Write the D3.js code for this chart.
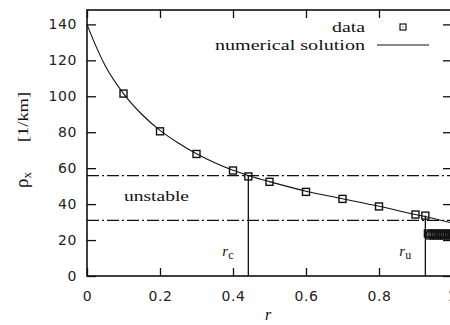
<!doctype html>
<html lang='en'>
<head>
    <meta charset='UTF-8'>
    <title>rho_x vs r</title>
    <style>
        html, body { margin: 0; background: #fff; }
        svg { display: block; }
        .tick text { font-family: "DejaVu Sans", sans-serif; font-size: 14px; fill: #222; }
        .serif { font-family: "Times New Roman", Times, "Liberation Serif", serif; fill: #111; }
    </style>
</head>
<body>
<script src='https://d3js.org/d3.v7.min.js'></script>
<script>
    // numerical solution
    const curveR = [0, 0.02, 0.05, 0.1, 0.15, 0.2, 0.25, 0.3, 0.35, 0.4, 0.45, 0.5, 0.6, 0.7, 0.8, 0.9, 0.95, 1.0];
    const curveRho = [140, 130, 117, 101.5, 90, 81, 74, 68, 63, 58.8, 55.4, 52.5, 47.2, 43, 38.8, 34.2, 32, 29.5];

    // simulation data points
    const dataR = [0.1, 0.2, 0.3, 0.4, 0.442, 0.5, 0.6, 0.7, 0.8, 0.9, 0.927,
        0.934, 0.939, 0.944, 0.949, 0.954, 0.959, 0.964, 0.969, 0.974, 0.979, 0.984, 0.989, 0.994, 1.0];
    const dataRho = [101.5, 80.5, 67.9, 58.7, 55.4, 52.4, 46.8, 42.9, 38.7, 34.2, 33.6,
        23.6, 22.6, 23.6, 22.6, 23.6, 22.6, 23.6, 22.6, 23.6, 22.6, 23.6, 22.6, 23.6, 22.6];

    // unstable band and the critical densities
    const bandRho = [55.8, 31];
    const critR = [0.442, 0.927];
    const critTop = [55.8, 33.6];
    const critNames = ['c', 'u'];

    const xTicks = [0, 0.2, 0.4, 0.6, 0.8, 1];
    const yTicks = [0, 20, 40, 60, 80, 100, 120, 140];

    const width = 450, height = 325;
    const mLeft = 87, mRight = 452, mTop = 10, mBottom = 276;

    const svg = d3.select('body').append('svg')
        .attr('width', width)
        .attr('height', height);

    const x = d3.scaleLinear().domain([0, 1]).range([mLeft, mRight]);
    const y = d3.scaleLinear().domain([0, 148]).range([mBottom, mTop]);

    // axes (ticks point inward)
    svg.append('g')
        .attr('transform', `translate(0,${mBottom})`)
        .call(d3.axisBottom(x).tickValues(xTicks).tickSize(-8).tickPadding(15)
            .tickFormat(d3.format('')));
    svg.append('g')
        .attr('transform', `translate(${mLeft},0)`)
        .call(d3.axisLeft(y).tickValues(yTicks).tickSize(-9).tickPadding(10));
    svg.append('g')
        .attr('transform', `translate(0,${mTop})`)
        .call(d3.axisTop(x).tickValues(xTicks).tickSize(-8).tickFormat(''));
    svg.append('g')
        .attr('transform', `translate(${mRight},0)`)
        .call(d3.axisRight(y).tickValues(yTicks).tickSize(-9).tickFormat(''));

    svg.selectAll('.domain').remove();
    svg.selectAll('.tick line').attr('stroke', '#111').attr('stroke-width', 1.3);
    svg.selectAll('.tick text').attr('letter-spacing', 0.6);

    svg.append('rect')
        .attr('x', mLeft).attr('y', mTop)
        .attr('width', mRight - mLeft).attr('height', mBottom - mTop)
        .attr('fill', 'none').attr('stroke', '#111').attr('stroke-width', 1.6);

    // unstable band boundaries
    svg.selectAll('.band')
        .data(bandRho)
        .enter().append('line')
        .attr('x1', x(0)).attr('x2', x(1))
        .attr('y1', d => y(d)).attr('y2', d => y(d))
        .attr('stroke', '#111').attr('stroke-width', 1.2)
        .attr('stroke-dasharray', '12,3,2,3');

    // critical density markers
    svg.selectAll('.crit')
        .data(critR)
        .enter().append('line')
        .attr('x1', d => x(d)).attr('x2', d => x(d))
        .attr('y1', y(0)).attr('y2', (d, i) => y(critTop[i]))
        .attr('stroke', '#111').attr('stroke-width', 1.3);

    critR.forEach((r, i) => {
        const t = svg.append('text').attr('class', 'serif')
            .attr('x', x(r) - 26).attr('y', 256)
            .attr('font-size', 15).attr('font-style', 'italic');
        t.append('tspan').text('r');
        t.append('tspan').attr('dy', 3).attr('font-size', 12)
            .attr('font-style', 'normal').text(critNames[i]);
    });

    // numerical solution
    const line = d3.line()
        .x((d, i) => x(curveR[i]))
        .y(d => y(d))
        .curve(d3.curveMonotoneX);
    svg.append('path')
        .datum(curveRho)
        .attr('d', line)
        .attr('fill', 'none')
        .attr('stroke', '#111')
        .attr('stroke-width', 1.1);

    // data squares
    const sq = 7;
    svg.selectAll('.pt')
        .data(dataRho)
        .enter().append('rect')
        .attr('x', (d, i) => x(dataR[i]) - sq / 2)
        .attr('y', d => y(d) - sq / 2)
        .attr('width', sq).attr('height', sq)
        .attr('fill', 'none')
        .attr('stroke', '#111').attr('stroke-width', 1.4);

    // texts
    svg.append('text').attr('class', 'serif')
        .attr('x', 124).attr('y', 201)
        .attr('font-size', 15)
        .attr('textLength', 65).attr('lengthAdjust', 'spacingAndGlyphs')
        .text('unstable');

    svg.append('text').attr('class', 'serif')
        .attr('x', 268).attr('y', 320)
        .attr('font-size', 16).attr('font-style', 'italic')
        .attr('text-anchor', 'middle')
        .text('r');

    const yl = svg.append('text').attr('class', 'serif')
        .attr('transform', 'translate(28,180) rotate(-90)')
        .attr('text-anchor', 'middle')
        .attr('font-size', 15);
    yl.append('tspan').attr('font-size', 19).text('ρ');
    yl.append('tspan').attr('dy', 3).attr('font-size', 13).text('x');
    svg.append('text').attr('class', 'serif')
        .attr('transform', 'translate(28,117) rotate(-90)')
        .attr('text-anchor', 'middle')
        .attr('font-size', 15)
        .attr('textLength', 50).attr('lengthAdjust', 'spacingAndGlyphs')
        .text('[1/km]');

    // legend
    svg.append('text').attr('class', 'serif')
        .attr('x', 365).attr('y', 32)
        .attr('font-size', 15).attr('text-anchor', 'end')
        .attr('textLength', 33).attr('lengthAdjust', 'spacingAndGlyphs')
        .text('data');
    svg.append('rect')
        .attr('x', 403 - 3).attr('y', 27 - 3)
        .attr('width', 6).attr('height', 6)
        .attr('fill', 'none').attr('stroke', '#111').attr('stroke-width', 1.2);
    svg.append('rect')
        .attr('x', 402.5).attr('y', 26.5).attr('width', 1).attr('height', 1).attr('fill', '#111');
    svg.append('text').attr('class', 'serif')
        .attr('x', 365).attr('y', 50)
        .attr('font-size', 15).attr('text-anchor', 'end')
        .attr('textLength', 150).attr('lengthAdjust', 'spacingAndGlyphs')
        .text('numerical solution');
    svg.append('line')
        .attr('x1', 377).attr('x2', 429)
        .attr('y1', 45).attr('y2', 45)
        .attr('stroke', '#111').attr('stroke-width', 1.2);
</script>
</body>
</html>
